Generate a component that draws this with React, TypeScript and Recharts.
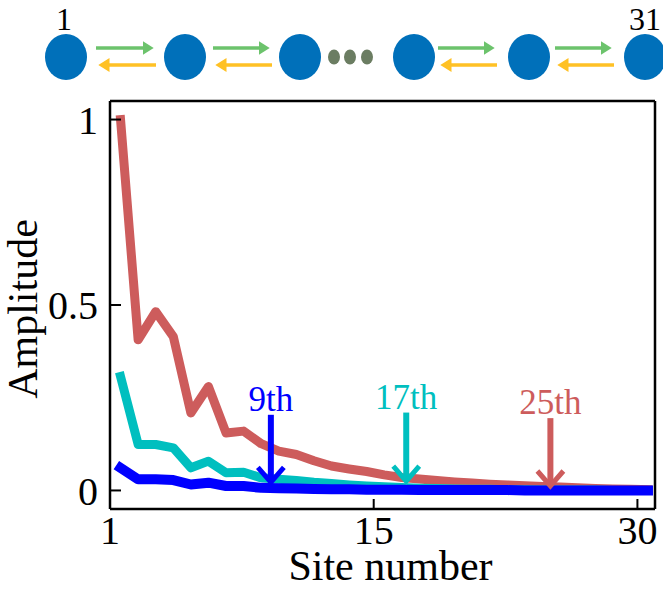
import { LineChart, Line, XAxis, YAxis, ReferenceLine } from "recharts";

// site index along the chain
const sites = [
  1, 2, 3, 4, 5, 6, 7, 8, 9, 10, 11, 12, 13, 14, 15, 16, 17, 18, 19, 20, 21,
  22, 23, 24, 25, 26, 27, 28, 29, 30, 31,
];

// amplitudes
const amp25 = [
  1.0, 0.406, 0.482, 0.415, 0.209, 0.28, 0.155, 0.16, 0.126, 0.106, 0.097,
  0.08, 0.066, 0.058, 0.051, 0.042, 0.035, 0.031, 0.027, 0.023, 0.02, 0.017,
  0.015, 0.013, 0.011, 0.009, 0.007, 0.005, 0.004, 0.003, 0.002,
];
const amp17 = [
  0.307, 0.124, 0.124, 0.115, 0.061, 0.079, 0.048, 0.049, 0.034, 0.03, 0.027,
  0.022, 0.019, 0.015, 0.012, 0.01, 0.008, 0.006, 0.005, 0.004, 0.003, 0.003,
  0.002, 0.002, 0.001, 0.001, 0.001, 0.001, 0.0, 0.0, 0.0,
];
const amp9 = [
  0.061, 0.03, 0.03, 0.028, 0.016, 0.021, 0.012, 0.012, 0.007, 0.006, 0.005,
  0.004, 0.003, 0.003, 0.002, 0.002, 0.002, 0.001, 0.001, 0.001, 0.001, 0.001,
  0.001, 0.0, 0.0, 0.0, 0.0, 0.0, 0.0, 0.0, 0.0,
];

const xTickPos = [0.4, 15.4, 30.4];
const xTickLabels = ["1", "15", "30"];
const yTicks = [0, 0.5, 1];

// arrows marking the modes
const markers = [
  { label: "9th", site: 9.55, top: 0.204, tip: 0.022, color: "#0000ff" },
  { label: "17th", site: 17.25, top: 0.21, tip: 0.025, color: "#00bfbf" },
  { label: "25th", site: 25.45, top: 0.195, tip: 0.012, color: "#cd5c5c" },
];

const data = sites.map((s, i) => ({
  site: s,
  a25: amp25[i],
  a17: amp17[i],
  a9: amp9[i],
}));

const FONT = '"Liberation Serif", "Times New Roman", serif';

// chain schematic on top
const nodeX = [66, 185, 300, 414, 529, 645];
const arrowPairs = [
  [96, 156],
  [213, 272],
  [438, 497],
  [555, 614],
];
const dotX = [334, 350, 367];

const arrowShape = (color: string, label: string) => (p: any) => {
  const { x1, y1, x2, y2 } = p;
  return (
    <g>
      <line x1={x1} y1={y1} x2={x2} y2={y2 - 2} stroke={color} strokeWidth={6} />
      <polyline
        points={`${x2 - 13},${y2 - 15} ${x2},${y2} ${x2 + 13},${y2 - 15}`}
        fill="none"
        stroke={color}
        strokeWidth={5}
      />
      <text
        x={x1}
        y={y1 - 4}
        textAnchor="middle"
        fill={color}
        fontSize={35}
        fontFamily={FONT}
      >
        {label}
      </text>
    </g>
  );
};

const Chain = () => (
  <svg
    width={663}
    height={100}
    style={{ position: "absolute", left: 0, top: 0 }}
  >
    <defs>
      <marker id="hg" markerWidth="4" markerHeight="4" refX="1" refY="2" orient="auto">
        <path d="M0,0 L3.2,2 L0,4 z" fill="#6cc36c" />
      </marker>
      <marker id="hy" markerWidth="4" markerHeight="4" refX="1" refY="2" orient="auto">
        <path d="M0,0 L3.2,2 L0,4 z" fill="#ffc125" />
      </marker>
    </defs>
    {arrowPairs.map(([a, b], i) => (
      <g key={i}>
        <line x1={a} y1={48} x2={b - 10} y2={48} stroke="#6cc36c" strokeWidth={3.5} markerEnd="url(#hg)" />
        <line x1={b} y1={65} x2={a + 10} y2={65} stroke="#ffc125" strokeWidth={3.5} markerEnd="url(#hy)" />
      </g>
    ))}
    {nodeX.map((x, i) => (
      <ellipse key={i} cx={x} cy={57} rx={21} ry={23} fill="#0070ba" />
    ))}
    {dotX.map((x, i) => (
      <ellipse key={i} cx={x} cy={57} rx={6} ry={7.5} fill="#6b7d62" />
    ))}
    <text x={64} y={30} textAnchor="middle" fontSize={32} fontFamily={FONT}>
      1
    </text>
    <text x={645} y={30} textAnchor="middle" fontSize={32} fontFamily={FONT}>
      31
    </text>
  </svg>
);

export default function App() {
  return (
    <div style={{ position: "absolute", left: 0, top: 0, width: 663, height: 590, background: "#fff" }}>
      <LineChart
        width={663}
        height={590}
        data={data}
        margin={{ top: 101, right: 8, left: 0, bottom: 0 }}
        style={{ position: "absolute", left: 0, top: 0 }}
      >
        <XAxis
          dataKey="site"
          type="number"
          domain={[0.4, 31.4]}
          ticks={xTickPos}
          interval={0}
          allowDataOverflow
          height={81}
          tickFormatter={(_v: number, i: number) => xTickLabels[i]}
          tickSize={-10}
          tickMargin={17}
          axisLine={{ stroke: "#000", strokeWidth: 2.5 }}
          tickLine={{ stroke: "#000", strokeWidth: 2 }}
          tick={{ fill: "#000", fontSize: 40, fontFamily: FONT }}
          label={{
            value: "Site number",
            position: "insideBottom",
            offset: 10,
            dx: 8,
            fill: "#000",
            fontSize: 42,
            fontFamily: FONT,
          }}
        />
        <YAxis
          type="number"
          domain={[-0.05, 1.05]}
          ticks={yTicks}
          allowDataOverflow
          width={110}
          tickSize={-11}
          tickMargin={23}
          axisLine={{ stroke: "#000", strokeWidth: 2.5 }}
          tickLine={{ stroke: "#000", strokeWidth: 2 }}
          tick={{ fill: "#000", fontSize: 40, fontFamily: FONT }}
          label={{
            value: "Amplitude",
            angle: -90,
            position: "insideLeft",
            offset: 22,
            dy: 4,
            fill: "#000",
            fontSize: 42,
            fontFamily: FONT,
            style: { textAnchor: "middle" },
          }}
        />
        <ReferenceLine y={1.05} stroke="#000" strokeWidth={2.5} />
        <ReferenceLine x={31.4} stroke="#000" strokeWidth={2.5} />
        <Line
          type="linear"
          dataKey="a25"
          stroke="#cd5c5c"
          strokeWidth={9}
          dot={false}
          strokeLinejoin="round"
          strokeLinecap="square"
          isAnimationActive={false}
        />
        <Line
          type="linear"
          dataKey="a17"
          stroke="#00bfbf"
          strokeWidth={9}
          dot={false}
          strokeLinejoin="round"
          strokeLinecap="square"
          isAnimationActive={false}
        />
        <Line
          type="linear"
          dataKey="a9"
          stroke="#0000ff"
          strokeWidth={10}
          dot={false}
          strokeLinejoin="round"
          strokeLinecap="square"
          isAnimationActive={false}
        />
        {markers.map((m) => (
          <ReferenceLine
            key={m.label}
            segment={[
              { x: m.site, y: m.top },
              { x: m.site, y: m.tip },
            ]}
            ifOverflow="visible"
            shape={arrowShape(m.color, m.label)}
          />
        ))}
      </LineChart>
      <Chain />
    </div>
  );
}
